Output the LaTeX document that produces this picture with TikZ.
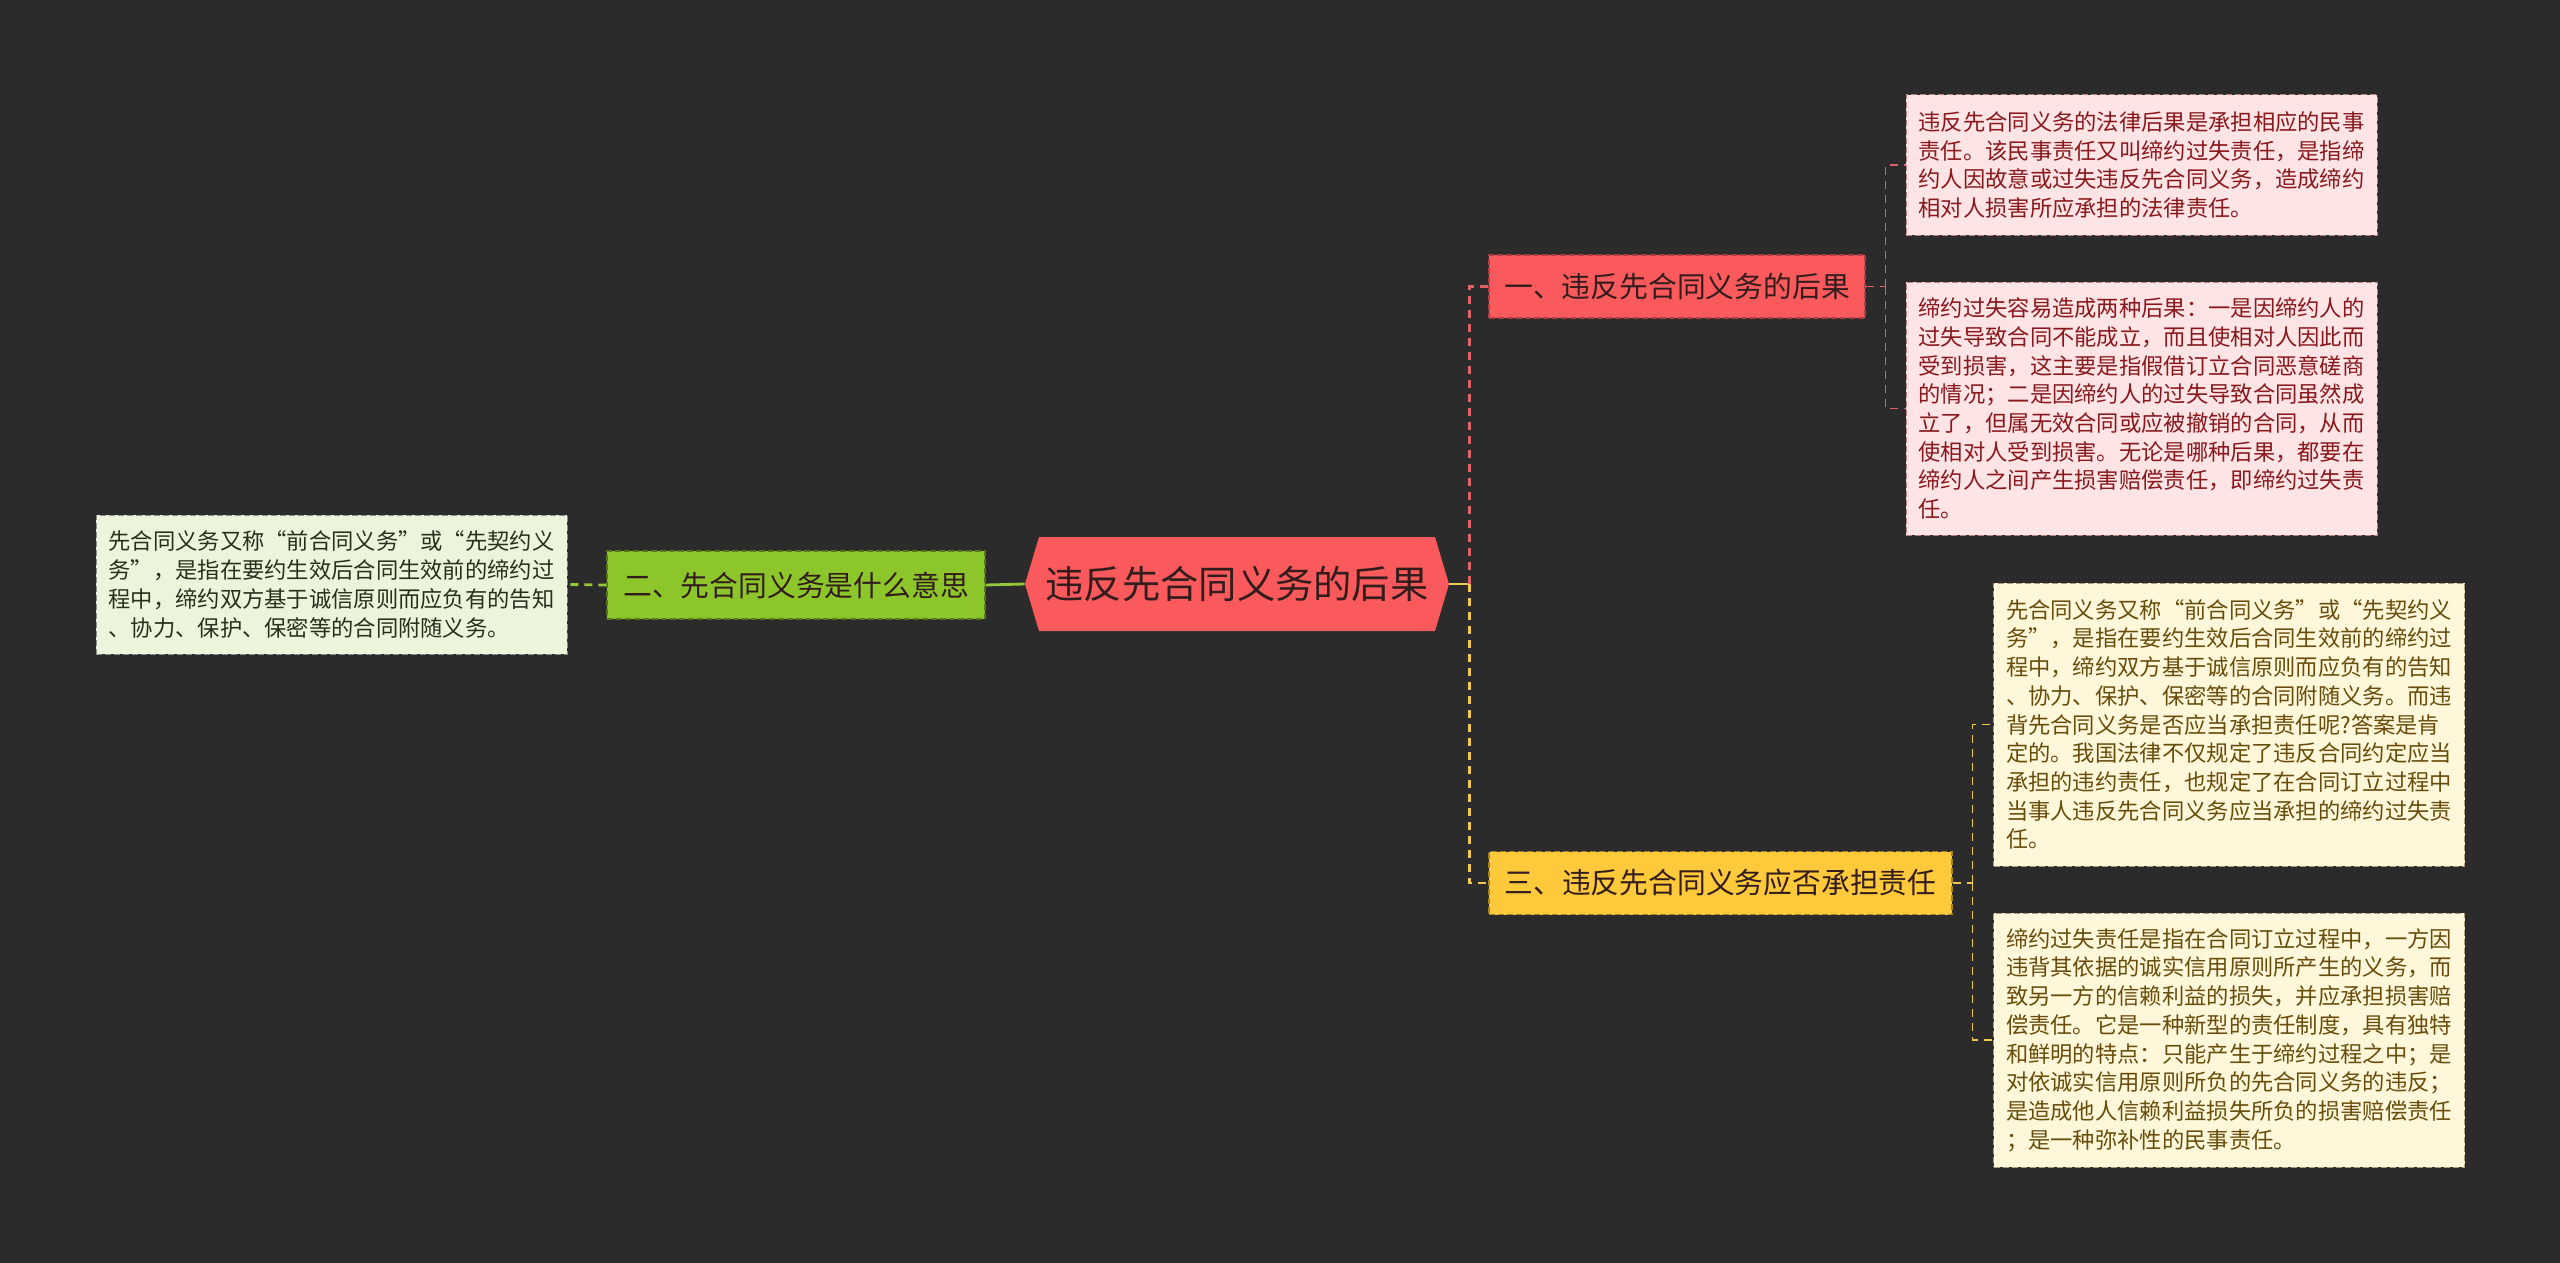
\documentclass[tikz,border=0pt]{standalone}
\usepackage{fontspec}
\setmainfont{Noto Sans CJK SC}
\newfontfamily\fwquote{Noto Sans CJK SC}[RawFeature=+fwid]
\newcommand{\lquo}{{\fwquote “}}
\newcommand{\rquo}{{\fwquote ”}}

\definecolor{bgdark}{RGB}{43,43,43}
\definecolor{rootred}{RGB}{250,90,92}
\definecolor{leafgreen}{RGB}{141,198,42}
\definecolor{leafyellow}{RGB}{254,201,58}
\definecolor{pinkbg}{RGB}{255,228,230}
\definecolor{pinktxt}{RGB}{136,24,28}
\definecolor{creambg}{RGB}{255,247,218}
\definecolor{creamtxt}{RGB}{104,76,10}
\definecolor{palegreen}{RGB}{237,244,220}
\definecolor{greentxt}{RGB}{40,48,28}
\definecolor{darktxt}{RGB}{50,28,28}
\definecolor{redline}{RGB}{224,98,100}
\definecolor{yellowline}{RGB}{240,200,80}
\definecolor{greenline}{RGB}{150,200,60}

\tikzset{
  rootbox/.style={minimum width=212pt, minimum height=47pt, inner sep=0pt, text=darktxt,
    font=\fontsize{19.15pt}{22pt}\selectfont,
    path picture={\fill[rootred] (path picture bounding box.west)
      -- ([xshift=7pt]path picture bounding box.north west)
      -- ([xshift=-7pt]path picture bounding box.north east)
      -- (path picture bounding box.east)
      -- ([xshift=-7pt]path picture bounding box.south east)
      -- ([xshift=7pt]path picture bounding box.south west) -- cycle;}},
  branchbox/.style={inner sep=0pt, minimum height=31.5pt, draw, line width=0.6pt,
    dash pattern=on 3pt off 1.5pt, text=darktxt, font=\fontsize{14.4pt}{17pt}\selectfont},
  redbranch/.style={branchbox, fill=rootred, draw=rootred!70!black},
  greenbranch/.style={branchbox, fill=leafgreen, draw=leafgreen!60!black, minimum height=34pt},
  yellowbranch/.style={branchbox, fill=leafyellow, draw=leafyellow!65!black},
  notebox/.style={align=left, text width=223pt, inner xsep=6.25pt, inner ysep=0pt, draw,
    line width=0.5pt, dash pattern=on 3pt off 1.5pt, font=\fontsize{11.15pt}{14.35pt}\selectfont},
  pinknote/.style={notebox, fill=pinkbg, draw=pinktxt!55, text=pinktxt},
  creamnote/.style={notebox, fill=creambg, draw=creamtxt!55, text=creamtxt},
  greennote/.style={notebox, fill=palegreen, draw=greentxt!55, text=greentxt},
  mainline/.style={line width=1.4pt},
  maindash/.style={line width=1.4pt, dash pattern=on 4pt off 3pt},
  subdash/.style={line width=0.8pt, dash pattern=on 4pt off 3pt}
}

\begin{document}
\begin{tikzpicture}[x=0.5pt, y=-0.5pt]
  \useasboundingbox (0,0) rectangle (2560,1263);
  \fill[bgdark] (0,0) rectangle (2560,1263);

  % centre
  \node[rootbox] (root) at (1237,584) {违反先合同义务的后果};

  % left side
  \node[greenbranch, minimum width=189pt] (yisi) at (796,585) {二、先合同义务是什么意思};
  \node[greennote, minimum height=69.5pt] (yisinote) at (331.5,584.5)
    {先合同义务又称\lquo 前合同义务\rquo 或\lquo 先契约义\\务\rquo ，是指在要约生效后合同生效前的缔约过\\程中，缔约双方基于诚信原则而应负有的告知\\、协力、保护、保密等的合同附随义务。};

  % right side, branch one
  \node[redbranch, minimum width=188pt] (houguo) at (1677,286.5) {一、违反先合同义务的后果};
  \node[pinknote, minimum height=70pt] (houguoa) at (2141.5,165)
    {违反先合同义务的法律后果是承担相应的民事\\责任。该民事责任又叫缔约过失责任，是指缔\\约人因故意或过失违反先合同义务，造成缔约\\相对人损害所应承担的法律责任。};
  \node[pinknote, minimum height=126.5pt] (houguob) at (2141.5,408.5)
    {缔约过失容易造成两种后果：一是因缔约人的\\过失导致合同不能成立，而且使相对人因此而\\受到损害，这主要是指假借订立合同恶意磋商\\的情况；二是因缔约人的过失导致合同虽然成\\立了，但属无效合同或应被撤销的合同，从而\\使相对人受到损害。无论是哪种后果，都要在\\缔约人之间产生损害赔偿责任，即缔约过失责\\任。};

  % right side, branch three
  \node[yellowbranch, minimum width=231.5pt] (zeren) at (1720.5,883) {三、违反先合同义务应否承担责任};
  \node[creamnote, minimum height=141.5pt] (zerena) at (2229,724.5)
    {先合同义务又称\lquo 前合同义务\rquo 或\lquo 先契约义\\务\rquo ，是指在要约生效后合同生效前的缔约过\\程中，缔约双方基于诚信原则而应负有的告知\\、协力、保护、保密等的合同附随义务。而违\\背先合同义务是否应当承担责任呢?答案是肯\\定的。我国法律不仅规定了违反合同约定应当\\承担的违约责任，也规定了在合同订立过程中\\当事人违反先合同义务应当承担的缔约过失责\\任。};
  \node[creamnote, minimum height=127pt] (zerenb) at (2229,1040)
    {缔约过失责任是指在合同订立过程中，一方因\\违背其依据的诚实信用原则所产生的义务，而\\致另一方的信赖利益的损失，并应承担损害赔\\偿责任。它是一种新型的责任制度，具有独特\\和鲜明的特点：只能产生于缔约过程之中；是\\对依诚实信用原则所负的先合同义务的违反；\\是造成他人信赖利益损失所负的损害赔偿责任\\；是一种弥补性的民事责任。};

  % connectors
  \coordinate (jroot) at ([xshift=10pt]root.east);
  \coordinate (jhou) at ([xshift=10pt]houguo.east);
  \coordinate (jzeren) at ([xshift=10pt]zeren.east);

  \draw[mainline, greenline] (root.west) -- (yisi.east);
  \draw[maindash, greenline] (yisi.west) -- (yisinote.east);

  \draw[mainline, yellowline] (root.east) -- (jroot);
  \draw[maindash, redline] (jroot) |- (houguo.west);
  \draw[maindash, yellowline] (jroot) |- (zeren.west);

  \draw[subdash, redline] (houguo.east) -- (jhou);
  \draw[subdash, redline] (jhou) |- (houguoa.west);
  \draw[subdash, redline] (jhou) |- (houguob.west);

  \draw[subdash, yellowline] (zeren.east) -- (jzeren);
  \draw[subdash, yellowline] (jzeren) |- (zerena.west);
  \draw[subdash, yellowline] (jzeren) |- (zerenb.west);
\end{tikzpicture}
\end{document}
